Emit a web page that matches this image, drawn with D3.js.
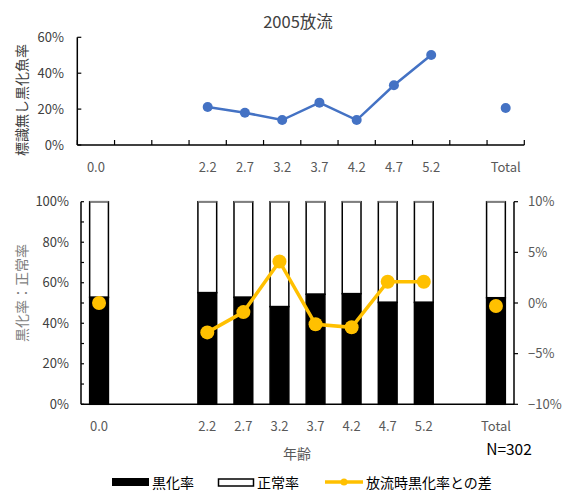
<!DOCTYPE html>
<html><head><meta charset="utf-8">
<script src="https://cdn.jsdelivr.net/npm/d3@7"></script>
<style>
body{margin:0;background:#fff;}
svg{display:block;font-family:"Noto Sans CJK JP","Noto Sans",sans-serif;}
</style></head>
<body><svg id="c" width="562" height="492"></svg>
<script>
// Age groups (blank slots keep the spacing of the original axis)
const ageKeys   = ["0.0","b1","b2","2.2","2.7","3.2","3.7","4.2","4.7","5.2","b3","Total"];
const ageLabels = ["0.0","","","2.2","2.7","3.2","3.7","4.2","4.7","5.2","","Total"];

// Untagged blackened-fish rate (top panel)
const untaggedRate = [null,null,null,0.212,0.180,0.139,0.236,0.139,0.333,0.501,null,0.206];

// Blackened rate (bottom panel, stacked with the normal rate)
const blackRate = [0.528,null,null,0.551,0.528,0.482,0.543,0.546,0.503,0.503,null,0.526];

// Difference from blackened rate at release (right axis)
const diffRate = [0.000,null,null,-0.029,-0.009,0.041,-0.021,-0.024,0.021,0.021,null,-0.003];

const topTicks = [0,0.2,0.4,0.6];
const leftTicks = [0,0.2,0.4,0.6,0.8,1.0];
const rightTicks = [-0.1,-0.05,0,0.05,0.1];

const svg = d3.select("#c");
const pct = d3.format(".0%");

// ---------- title ----------
svg.append("text").attr("x",298).attr("y",28).attr("text-anchor","middle")
  .attr("font-size",16.5).attr("fill","#404040").text("2005放流");

// ---------- top panel ----------
const tx = d3.scaleBand().domain(ageKeys).range([77.3,524.3]);
const ty = d3.scaleLinear().domain([0,0.6]).range([145,37.3]);

const topG = svg.append("g");
// y axis
topG.append("line").attr("x1",tx.range()[0]).attr("x2",tx.range()[0]).attr("y1",ty(0.6)).attr("y2",ty(0))
  .attr("stroke","#000").attr("stroke-width",1.5);
topG.selectAll(".yt").data(topTicks).join("line")
  .attr("x1",tx.range()[0]).attr("x2",tx.range()[0]+4).attr("y1",d=>ty(d)).attr("y2",d=>ty(d))
  .attr("stroke","#000").attr("stroke-width",1.2);
topG.selectAll(".yl").data(topTicks).join("text")
  .attr("x",64).attr("y",d=>ty(d)+4.5).attr("text-anchor","end")
  .attr("font-size",13).attr("fill","#404040").text(pct);
// x axis
topG.append("line").attr("x1",tx.range()[0]).attr("x2",tx.range()[1]).attr("y1",ty(0)).attr("y2",ty(0))
  .attr("stroke","#000").attr("stroke-width",1.5);
const topTickX = ageKeys.map(k=>tx(k)).concat([tx.range()[1]]);
topG.selectAll(".xt").data(topTickX).join("line")
  .attr("x1",d=>d).attr("x2",d=>d).attr("y1",ty(0)).attr("y2",ty(0)-5)
  .attr("stroke","#000").attr("stroke-width",1.2);
topG.selectAll(".xl").data(ageKeys).join("text")
  .attr("x",d=>tx(d)+tx.bandwidth()/2).attr("y",172).attr("text-anchor","middle")
  .attr("font-size",13).attr("fill","#595959").text((d,i)=>ageLabels[i]);
// y title
svg.append("text").attr("transform","translate(27,100) rotate(-90)")
  .attr("text-anchor","middle").attr("font-size",14).attr("fill","#404040")
  .text("標識無し黒化魚率");

// line for age groups 2.2..5.2, Total drawn as its own point
const topPts = ageKeys.map((k,i)=>({k,v:untaggedRate[i]}));
const topLine = d3.line()
  .defined(d=>d.v!==null && d.k!=="Total")
  .x(d=>tx(d.k)+tx.bandwidth()/2).y(d=>ty(d.v));
topG.append("path").datum(topPts).attr("d",topLine)
  .attr("fill","none").attr("stroke","#4472C4").attr("stroke-width",2.5);
topG.selectAll(".tp").data(topPts.filter(d=>d.v!==null)).join("circle")
  .attr("cx",d=>tx(d.k)+tx.bandwidth()/2).attr("cy",d=>ty(d.v)).attr("r",5)
  .attr("fill","#4472C4");

// ---------- bottom panel ----------
const bx = d3.scaleBand().domain(ageKeys).range([81,514]).paddingInner(0.48).paddingOuter(0.24);
const bxc = d3.scaleBand().domain(ageKeys).range([81,514]);
const by = d3.scaleLinear().domain([0,1]).range([404.3,201.7]);
const ry = d3.scaleLinear().domain([-0.1,0.1]).range([404.3,201.7]);
const botG = svg.append("g");
const barX = d => bxc(d.k)+bxc.bandwidth()/2-bx.bandwidth()/2;

const barData = ageKeys.map((k,i)=>({k,b:blackRate[i]})).filter(d=>d.b!==null);
// normal rate (white, full height stack)
botG.selectAll(".nb").data(barData).join("rect")
  .attr("x",barX).attr("width",bx.bandwidth())
  .attr("y",by(1)).attr("height",d=>by(d.b)-by(1))
  .attr("fill","#fff").attr("stroke","#000").attr("stroke-width",1.5);
// blackened rate
botG.selectAll(".bb").data(barData).join("rect")
  .attr("x",barX).attr("width",bx.bandwidth())
  .attr("y",d=>by(d.b)).attr("height",d=>by(0)-by(d.b))
  .attr("fill","#000").attr("stroke","#000").attr("stroke-width",1.5);
// top edge of stack in grey
botG.selectAll(".te").data(barData).join("line")
  .attr("x1",barX).attr("x2",d=>barX(d)+bx.bandwidth())
  .attr("y1",by(1)).attr("y2",by(1)).attr("stroke","#7f7f7f").attr("stroke-width",1.5);

// left axis
const leftMinor = d3.range(0,1.001,0.1);
botG.append("line").attr("x1",81).attr("x2",81).attr("y1",by(1)).attr("y2",by(0))
  .attr("stroke","#000").attr("stroke-width",1.5);
botG.selectAll(".lt").data(leftMinor).join("line")
  .attr("x1",81).attr("x2",84).attr("y1",d=>by(d)).attr("y2",d=>by(d))
  .attr("stroke","#000").attr("stroke-width",1.2);
botG.selectAll(".ll").data(leftTicks).join("text")
  .attr("x",69).attr("y",d=>by(d)+4.5).attr("text-anchor","end")
  .attr("font-size",13).attr("fill","#404040").text(pct);
// right axis
botG.append("line").attr("x1",514).attr("x2",514).attr("y1",ry(0.1)).attr("y2",ry(-0.1))
  .attr("stroke","#000").attr("stroke-width",1.5);
botG.selectAll(".rt").data(rightTicks).join("line")
  .attr("x1",514).attr("x2",518).attr("y1",d=>ry(d)).attr("y2",d=>ry(d))
  .attr("stroke","#000").attr("stroke-width",1.2);
botG.selectAll(".rl").data(rightTicks).join("text")
  .attr("x",528).attr("y",d=>ry(d)+4.5).attr("text-anchor","start")
  .attr("font-size",13).attr("fill","#595959").text(pct);
// x axis
botG.append("line").attr("x1",81).attr("x2",514).attr("y1",by(0)).attr("y2",by(0))
  .attr("stroke","#000").attr("stroke-width",1.5);
botG.selectAll(".bxl").data(ageKeys).join("text")
  .attr("x",d=>bxc(d)+bxc.bandwidth()/2).attr("y",431).attr("text-anchor","middle")
  .attr("font-size",13).attr("fill","#595959").text((d,i)=>ageLabels[i]);

svg.append("text").attr("x",297).attr("y",459).attr("text-anchor","middle")
  .attr("font-size",14).attr("fill","#595959").text("年齢");
svg.append("text").attr("x",509).attr("y",455).attr("text-anchor","middle")
  .attr("font-size",15.5).attr("fill","#000").text("N=302");
svg.append("text").attr("transform","translate(27,293) rotate(-90)")
  .attr("text-anchor","middle").attr("font-size",14).attr("fill","#7f7f7f")
  .text("黒化率：正常率");

// difference line
const diffPts = ageKeys.map((k,i)=>({k,v:diffRate[i]}));
const diffLine = d3.line()
  .defined(d=>d.v!==null && d.k!=="Total" && d.k!=="0.0")
  .x(d=>bxc(d.k)+bxc.bandwidth()/2).y(d=>ry(d.v));
botG.append("path").datum(diffPts).attr("d",diffLine)
  .attr("fill","none").attr("stroke","#FFC000").attr("stroke-width",3.5);
botG.selectAll(".dp").data(diffPts.filter(d=>d.v!==null)).join("circle")
  .attr("cx",d=>bxc(d.k)+bxc.bandwidth()/2).attr("cy",d=>ry(d.v)).attr("r",7)
  .attr("fill","#FFC000");

// ---------- legend ----------
const lg = svg.append("g").attr("font-size",14).attr("fill","#000");
lg.append("rect").attr("x",112).attr("y",478).attr("width",37).attr("height",8).attr("fill","#000");
lg.append("text").attr("x",152).attr("y",488).text("黒化率");
lg.append("rect").attr("x",218.5).attr("y",479).attr("width",35).attr("height",7)
  .attr("fill","#fff").attr("stroke","#000").attr("stroke-width",1.5);
lg.append("text").attr("x",257).attr("y",488).text("正常率");
lg.append("line").attr("x1",325).attr("x2",363).attr("y1",482).attr("y2",482)
  .attr("stroke","#FFC000").attr("stroke-width",3.5);
lg.append("circle").attr("cx",344).attr("cy",482).attr("r",3.5).attr("fill","#FFC000");
lg.append("text").attr("x",366).attr("y",488).text("放流時黒化率との差");
</script></body></html>
